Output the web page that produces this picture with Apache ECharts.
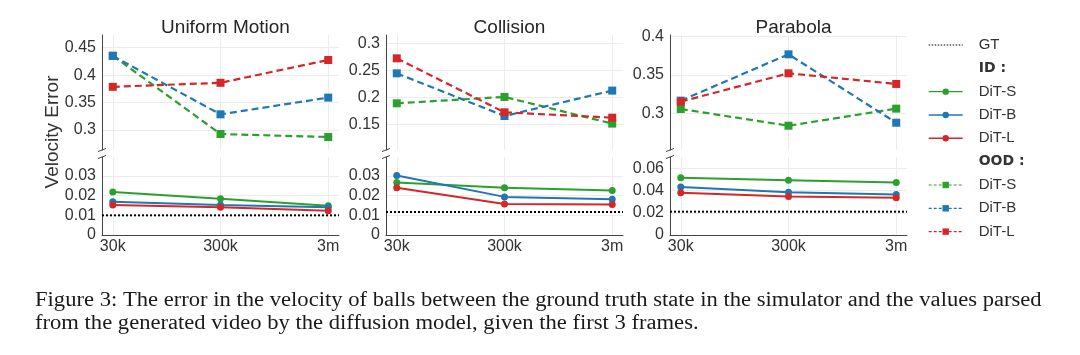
<!DOCTYPE html>
<html><head><meta charset="utf-8">
<script src="https://cdn.jsdelivr.net/npm/echarts@6/dist/echarts.min.js"></script>
<style>html,body{margin:0;padding:0;background:#fff}#c{width:1080px;height:355px}</style>
</head><body><div id="c"></div>
<script>
// ---------- data ----------
const categories = ['30k', '300k', '3m'];
const panelTitles = ['Uniform Motion', 'Collision', 'Parabola'];
const gtValues = [0.01, 0.0117, 0.021];

// In-distribution (ID) velocity error: [Uniform Motion, Collision, Parabola]
const idDitS = [[0.0219, 0.0185, 0.0149], [0.0267, 0.0241, 0.0226], [0.0515, 0.0494, 0.0473]];
const idDitB = [[0.0169, 0.0153, 0.0141], [0.0303, 0.0194, 0.0182], [0.0433, 0.0385, 0.0364]];
const idDitL = [[0.0153, 0.0141, 0.0124], [0.0240, 0.0158, 0.0155], [0.0380, 0.0348, 0.0336]];

// Out-of-distribution (OOD) velocity error
const oodDitS = [[0.4354, 0.2927, 0.2872], [0.1889, 0.2007, 0.1513], [0.3056, 0.2838, 0.3061]];
const oodDitB = [[0.4350, 0.3286, 0.3591], [0.2444, 0.1654, 0.2124], [0.3165, 0.3770, 0.2877]];
const oodDitL = [[0.3787, 0.3860, 0.4276], [0.2722, 0.1722, 0.1623], [0.3152, 0.3522, 0.3383]];

// tick labels
const topTicks = [[0.3, 0.35, 0.4, 0.45], [0.15, 0.2, 0.25, 0.3], [0.3, 0.35, 0.4]];
const bottomTicks = [[0, 0.01, 0.02, 0.03], [0, 0.01, 0.02, 0.03], [0, 0.02, 0.04, 0.06]];
// axis ranges
const topRange = [[0.2636, 0.4731], [0.1024, 0.3154], [0.2521, 0.4022]];
const bottomRange = [[0, 0.0397], [0, 0.0397], [0, 0.0703]];

const captionText = 'Figure 3: The error in the velocity of balls between the ground truth state in the simulator and the values parsed\nfrom the generated video by the diffusion model, given the first 3 frames.';

// ---------- layout / style ----------
const FONT = '"Liberation Sans", Arial, Helvetica, sans-serif';
const X_MIN = -0.1, X_MAX = 2.1;
const panelLeft = [102, 386, 670];
const panelWidth = 237;
const TOP_T = 35, TOP_H = 115, BOT_T = 157, BOT_H = 78;
const COLORS = { S: '#2ca02c', B: '#1f77b4', L: '#d62728' };
const GRIDC = '#ececec';
const AXISC = '#454545';
const TEXTC = '#333';
const xIdx = [0, 1, 2];

const grids = [], xAxes = [], yAxes = [], series = [], titles = [], graphics = [];

for (let p = 0; p < 3; p++) {
  grids.push({ left: panelLeft[p], width: panelWidth, top: TOP_T, height: TOP_H });
  grids.push({ left: panelLeft[p], width: panelWidth, top: BOT_T, height: BOT_H });
  const gTop = 2 * p, gBot = 2 * p + 1;

  xAxes.push({
    type: 'value', gridIndex: gTop, min: X_MIN, max: X_MAX,
    axisLine: { show: false, onZero: false }, axisTick: { show: false, customValues: xIdx },
    axisLabel: { show: false, customValues: xIdx },
    splitLine: { show: true, lineStyle: { color: GRIDC, width: 1 } }
  });
  xAxes.push({
    type: 'value', gridIndex: gBot, min: X_MIN, max: X_MAX,
    axisLine: { show: true, onZero: false, lineStyle: { color: AXISC, width: 1 } },
    axisTick: { show: false, customValues: xIdx },
    axisLabel: { customValues: xIdx, formatter: v => categories[Math.round(v)], fontSize: 16, color: TEXTC, fontFamily: FONT, margin: 4 },
    splitLine: { show: true, lineStyle: { color: GRIDC, width: 1 } }
  });
  yAxes.push({
    type: 'value', gridIndex: gTop, min: topRange[p][0], max: topRange[p][1],
    axisLine: { show: true, onZero: false, lineStyle: { color: AXISC, width: 1 } },
    axisTick: { show: false, customValues: topTicks[p] },
    axisLabel: { customValues: topTicks[p], fontSize: 16, color: TEXTC, fontFamily: FONT, margin: 6 },
    splitLine: { show: true, lineStyle: { color: GRIDC, width: 1 } }
  });
  yAxes.push({
    type: 'value', gridIndex: gBot, min: bottomRange[p][0], max: bottomRange[p][1],
    axisLine: { show: true, onZero: false, lineStyle: { color: AXISC, width: 1 } },
    axisTick: { show: false, customValues: bottomTicks[p] },
    axisLabel: { customValues: bottomTicks[p], fontSize: 16, color: TEXTC, fontFamily: FONT, margin: 6 },
    splitLine: { show: true, lineStyle: { color: GRIDC, width: 1 } }
  });

  // GT dotted line
  series.push({
    name: 'GT', type: 'line', xAxisIndex: gBot, yAxisIndex: gBot,
    data: [[X_MIN, gtValues[p]], [X_MAX, gtValues[p]]],
    symbol: 'none', lineStyle: { color: '#000', width: 2, type: [2, 2] }, z: 1, silent: true
  });

  const idSets = [['S', idDitS], ['B', idDitB], ['L', idDitL]];
  idSets.forEach(([k, arr]) => {
    series.push({
      name: 'ID DiT-' + k, type: 'line', xAxisIndex: gBot, yAxisIndex: gBot,
      data: arr[p].map((v, i) => [i, v]),
      symbol: 'circle', symbolSize: 7,
      lineStyle: { color: COLORS[k], width: 2 }, itemStyle: { color: COLORS[k] }, z: 3
    });
  });
  const oodSets = [['S', oodDitS], ['B', oodDitB], ['L', oodDitL]];
  oodSets.forEach(([k, arr]) => {
    series.push({
      name: 'OOD DiT-' + k, type: 'line', xAxisIndex: gTop, yAxisIndex: gTop,
      data: arr[p].map((v, i) => [i, v]),
      symbol: 'rect', symbolSize: 8,
      lineStyle: { color: COLORS[k], width: 2.2, type: [7, 4] }, itemStyle: { color: COLORS[k] }, z: 3
    });
  });

  titles.push({
    text: panelTitles[p], left: panelLeft[p] + panelWidth / 2, top: 13, textAlign: 'center',
    textStyle: { fontSize: 19, fontWeight: 'normal', color: '#262626', fontFamily: FONT }
  });

  // axis break marks
  const L = panelLeft[p];
  [[151.5, 148.5], [158.5, 155.5]].forEach(([y1, y2]) => {
    graphics.push({ type: 'line', shape: { x1: L - 4, y1: y1, x2: L + 4, y2: y2 }, style: { stroke: AXISC, lineWidth: 1 } });
  });
}

// legend-only headers
series.push({ name: 'ID :', type: 'line', xAxisIndex: 1, yAxisIndex: 1, data: [] });
series.push({ name: 'OOD :', type: 'line', xAxisIndex: 0, yAxisIndex: 0, data: [] });

graphics.push({
  type: 'text', x: 53, y: 132, rotation: Math.PI / 2,
  style: { text: 'Velocity Error', fontSize: 19, fontFamily: FONT, fill: TEXTC, align: 'center', verticalAlign: 'middle' }
});
graphics.push({
  type: 'text', x: 35, y: 289, scaleX: 1.13,
  style: { text: captionText, fontSize: 20, fontFamily: '"Liberation Serif", "Times New Roman", serif', fill: '#1a1a1a', lineHeight: 23 }
});

const headerItem = n => ({ name: n, icon: 'rect', itemStyle: { opacity: 0 }, textStyle: { fontWeight: 'bold', fontFamily: '"DejaVu Sans", sans-serif', fontSize: 14 } });
const idItem = n => ({ name: n, lineStyle: { width: 1.4 } });
const oodItem = n => ({ name: n, lineStyle: { width: 1.2, type: [3, 2] } });

const option = {
  animation: false,
  backgroundColor: '#fff',
  title: titles,
  grid: grids,
  xAxis: xAxes,
  yAxis: yAxes,
  legend: {
    orient: 'vertical', left: 928, top: 37, padding: 0, itemWidth: 34, itemHeight: 8, itemGap: 7.33,
    selectedMode: false,
    formatter: n => n.replace(/^(ID|OOD) (?=DiT)/, ''),
    textStyle: { fontSize: 15, color: TEXTC, fontFamily: FONT, lineHeight: 16, padding: [0, 0, 0, 11] },
    data: [
      { name: 'GT', itemStyle: { opacity: 0 }, lineStyle: { width: 1.2, type: [1.5, 1.5] } },
      headerItem('ID :'), idItem('ID DiT-S'), idItem('ID DiT-B'), idItem('ID DiT-L'),
      headerItem('OOD :'), oodItem('OOD DiT-S'), oodItem('OOD DiT-B'), oodItem('OOD DiT-L')
    ]
  },
  graphic: graphics,
  series: series
};

const chart = echarts.init(document.getElementById('c'), null, { renderer: 'canvas' });
chart.setOption(option);
</script></body></html>
